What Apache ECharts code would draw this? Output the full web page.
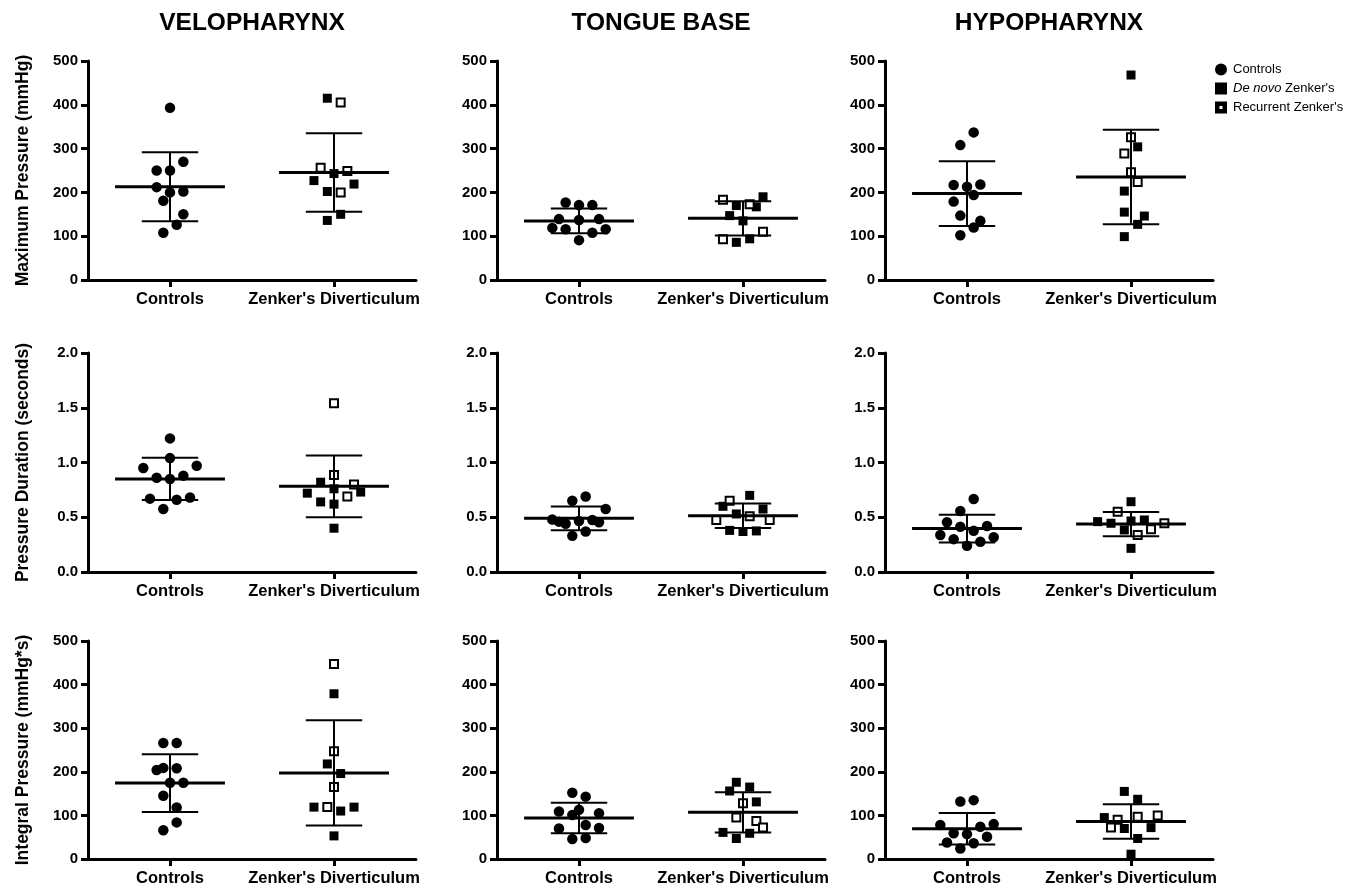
<!DOCTYPE html>
<html><head><meta charset="utf-8">
<script src="https://cdn.jsdelivr.net/npm/echarts@6/dist/echarts.min.js"></script>
<style>html,body{margin:0;padding:0;background:#fff}#c{width:1360px;height:887px}</style>
</head><body><div id="c"></div>
<script>
const categories = ['Controls', "Zenker's Diverticulum"];
const regions = ['VELOPHARYNX', 'TONGUE BASE', 'HYPOPHARYNX'];
const measures = ['Maximum Pressure (mmHg)', 'Pressure Duration (seconds)', 'Integral Pressure (mmHg*s)'];
const yMax = [500, 2, 500];
const yInterval = [100, 0.5, 100];
const groupNames = ['Controls', "De novo Zenker's", "Recurrent Zenker's"];

// ---- Maximum pressure (mmHg) ----
const veloMaxControls = [393, 270, 250, 250, 212, 202, 200, 181, 150, 126, 108];
const veloMaxControlsJitter = [0, 2, -2, 0, -2, 2, 0, -1, 2, 1, -1];
const veloMaxDeNovo = [415, 243, 227, 219, 202, 150, 136];
const veloMaxDeNovoJitter = [-1, 0, -3, 3, -1, 1, -1];
const veloMaxRecurrent = [405, 256, 249, 200];
const veloMaxRecurrentJitter = [1, -2, 2, 1];

const tongueMaxControls = [177, 171, 171, 139, 137, 139, 119, 116, 108, 116, 91];
const tongueMaxControlsJitter = [-2, 0, 2, -3, 0, 3, -4, -2, 2, 4, 0];
const tongueMaxDeNovo = [170, 167, 190, 147, 135, 86, 94];
const tongueMaxDeNovoJitter = [-1, 2, 3, -2, 0, -1, 1];
const tongueMaxRecurrent = [183, 173, 110, 93];
const tongueMaxRecurrentJitter = [-3, 1, 3, -3];

const hypoMaxControls = [337, 308, 217, 213, 218, 194, 179, 147, 135, 120, 102];
const hypoMaxControlsJitter = [1, -1, -2, 0, 2, 1, -2, -1, 2, 1, -1];
const hypoMaxDeNovo = [468, 304, 203, 155, 146, 127, 99];
const hypoMaxDeNovoJitter = [0, 1, -1, -1, 2, 1, -1];
const hypoMaxRecurrent = [326, 289, 246, 224];
const hypoMaxRecurrentJitter = [0, -1, 0, 1];

// ---- Pressure duration (seconds) ----
const veloDurControls = [1.22, 0.95, 1.04, 0.97, 0.86, 0.85, 0.88, 0.67, 0.66, 0.68, 0.575];
const veloDurControlsJitter = [0, -4, 0, 4, -2, 0, 2, -3, 1, 3, -1];
const veloDurDeNovo = [0.82, 0.76, 0.72, 0.73, 0.64, 0.62, 0.40];
const veloDurDeNovoJitter = [-2, 0, -4, 4, -2, 0, 0];
const veloDurRecurrent = [1.54, 0.886, 0.80, 0.69];
const veloDurRecurrentJitter = [0, 0, 3, 2];

const tongueDurControls = [0.69, 0.65, 0.575, 0.48, 0.46, 0.466, 0.475, 0.454, 0.37, 0.33, 0.44];
const tongueDurControlsJitter = [1, -1, 4, -4, -3, 0, 2, 3, 1, -1, -2];
const tongueDurDeNovo = [0.70, 0.60, 0.575, 0.53, 0.38, 0.37, 0.375];
const tongueDurDeNovoJitter = [1, -3, 3, -1, -2, 0, 2];
const tongueDurRecurrent = [0.65, 0.51, 0.475, 0.475];
const tongueDurRecurrentJitter = [-2, 1, -4, 4];

const hypoDurControls = [0.667, 0.557, 0.454, 0.414, 0.377, 0.42, 0.338, 0.30, 0.317, 0.277, 0.24];
const hypoDurControlsJitter = [1, -1, -3, -1, 1, 3, -4, -2, 4, 2, 0];
const hypoDurDeNovo = [0.642, 0.46, 0.445, 0.475, 0.466, 0.384, 0.216];
const hypoDurDeNovoJitter = [0, -5, -3, 2, 0, -1, 0];
const hypoDurRecurrent = [0.55, 0.445, 0.39, 0.338];
const hypoDurRecurrentJitter = [-2, 5, 3, 1];

// ---- Integral pressure (mmHg*s) ----
const veloIntControls = [266, 266, 204, 209, 208, 175, 175, 145, 118, 84, 66];
const veloIntControlsJitter = [-1, 1, -2, -1, 1, 0, 2, -1, 1, 1, -1];
const veloIntDeNovo = [379, 218, 196, 119, 110, 119, 53];
const veloIntDeNovoJitter = [0, -1, 1, -3, 1, 3, 0];
const veloIntRecurrent = [447, 247, 165, 119];
const veloIntRecurrentJitter = [0, 0, 0, -1];

const tongueIntControls = [152, 143, 109, 113, 101, 105, 78, 70, 71, 46, 48];
const tongueIntControlsJitter = [-1, 1, -3, 0, -1, 3, 1, -3, 3, -1, 1];
const tongueIntDeNovo = [176, 165, 156, 131, 61, 59, 47];
const tongueIntDeNovoJitter = [-1, 1, -2, 2, -3, 1, -1];
const tongueIntRecurrent = [128, 95, 87, 72];
const tongueIntRecurrentJitter = [0, -1, 2, 3];

const hypoIntControls = [132, 135, 78, 74, 80, 59, 57, 51, 38, 36, 24];
const hypoIntControlsJitter = [-1, 1, -4, 2, 4, -2, 0, 3, -3, 1, -1];
const hypoIntDeNovo = [155, 137, 95, 70, 72, 47, 11];
const hypoIntDeNovoJitter = [-1, 1, -4, -1, 3, 1, 0];
const hypoIntRecurrent = [100, 97, 90, 72];
const hypoIntRecurrentJitter = [4, 1, -2, -3];

// panels[row][col]
const panels = [
  [
    [veloMaxControls, veloMaxControlsJitter, veloMaxDeNovo, veloMaxDeNovoJitter, veloMaxRecurrent, veloMaxRecurrentJitter],
    [tongueMaxControls, tongueMaxControlsJitter, tongueMaxDeNovo, tongueMaxDeNovoJitter, tongueMaxRecurrent, tongueMaxRecurrentJitter],
    [hypoMaxControls, hypoMaxControlsJitter, hypoMaxDeNovo, hypoMaxDeNovoJitter, hypoMaxRecurrent, hypoMaxRecurrentJitter]
  ],
  [
    [veloDurControls, veloDurControlsJitter, veloDurDeNovo, veloDurDeNovoJitter, veloDurRecurrent, veloDurRecurrentJitter],
    [tongueDurControls, tongueDurControlsJitter, tongueDurDeNovo, tongueDurDeNovoJitter, tongueDurRecurrent, tongueDurRecurrentJitter],
    [hypoDurControls, hypoDurControlsJitter, hypoDurDeNovo, hypoDurDeNovoJitter, hypoDurRecurrent, hypoDurRecurrentJitter]
  ],
  [
    [veloIntControls, veloIntControlsJitter, veloIntDeNovo, veloIntDeNovoJitter, veloIntRecurrent, veloIntRecurrentJitter],
    [tongueIntControls, tongueIntControlsJitter, tongueIntDeNovo, tongueIntDeNovoJitter, tongueIntRecurrent, tongueIntRecurrentJitter],
    [hypoIntControls, hypoIntControlsJitter, hypoIntDeNovo, hypoIntDeNovoJitter, hypoIntRecurrent, hypoIntRecurrentJitter]
  ]
];

// ---- layout ----
const FONT = '"Liberation Sans", Arial, Helvetica, sans-serif';
const colLeft = [88, 497, 885];
const rowTop = [61, 353, 641];
const gridW = 328, gridH = 219;
const jitterStep = 0.0407;   // one jitter slot on the hidden [0,2] x-scale
const meanHalf = 0.335, capHalf = 0.172;

function mean(a) { return a.reduce((s, v) => s + v, 0) / a.length; }
function sd(a) { const m = mean(a); return Math.sqrt(a.reduce((s, v) => s + (v - m) * (v - m), 0) / (a.length - 1)); }
function pts(vals, jit, center) { return vals.map((v, i) => [center + jit[i] * jitterStep, v]); }

const grid = [], xAxis = [], yAxis = [], series = [], title = [];
regions.forEach((r, c) => {
  title.push({ text: r, left: colLeft[c] + gridW / 2, top: 11, textAlign: 'center', padding: 0,
    textStyle: { fontFamily: FONT, fontSize: 24.5, fontWeight: 'bold', color: '#000' } });
});

for (let r = 0; r < 3; r++) {
  for (let c = 0; c < 3; c++) {
    const gi = r * 3 + c;
    grid.push({ left: colLeft[c], top: rowTop[r], width: gridW, height: gridH, containLabel: false });
    xAxis.push({
      type: 'category', gridIndex: gi, data: categories, boundaryGap: true,
      axisLine: { show: true, lineStyle: { color: '#000', width: 3 } },
      axisTick: { show: true, alignWithLabel: true, length: 7, lineStyle: { color: '#000', width: 3 } },
      axisLabel: { color: '#000', fontFamily: FONT, fontSize: 16.5, fontWeight: 'bold', margin: 11, interval: 0 },
      splitLine: { show: false }
    });
    xAxis.push({ type: 'value', gridIndex: gi, min: 0, max: 2, show: false });
    yAxis.push({
      type: 'value', gridIndex: gi, min: 0, max: yMax[r], interval: yInterval[r],
      name: c === 0 ? measures[r] : '', nameLocation: 'middle', nameRotate: 90, nameGap: 56,
      nameTextStyle: { color: '#000', fontFamily: FONT, fontSize: 17.5, fontWeight: 'bold' },
      axisLine: { show: true, lineStyle: { color: '#000', width: 3 } },
      axisTick: { show: true, length: 7, lineStyle: { color: '#000', width: 3 } },
      axisLabel: { color: '#000', fontFamily: FONT, fontSize: 15, fontWeight: 'bold', margin: 10,
        formatter: r === 1 ? (v => v.toFixed(1)) : (v => String(v)) },
      splitLine: { show: false }
    });
    const p = panels[r][c];
    const xi = gi * 2 + 1;
    series.push({ name: groupNames[0], type: 'scatter', xAxisIndex: xi, yAxisIndex: gi,
      symbol: 'circle', symbolSize: 10.5, itemStyle: { color: '#000', opacity: 1 }, z: 2,
      data: pts(p[0], p[1], 0.5) });
    series.push({ name: groupNames[1], type: 'scatter', xAxisIndex: xi, yAxisIndex: gi,
      symbol: 'rect', symbolSize: 9, itemStyle: { color: '#000', opacity: 1 }, z: 2,
      data: pts(p[2], p[3], 1.5) });
    series.push({ name: groupNames[2], type: 'scatter', xAxisIndex: xi, yAxisIndex: gi,
      symbol: 'rect', symbolSize: 8, itemStyle: { color: '#fff', borderColor: '#000', borderWidth: 2, opacity: 1 }, z: 2,
      data: pts(p[4], p[5], 1.5) });
    const zen = p[2].concat(p[4]);
    series.push({
      type: 'custom', xAxisIndex: xi, yAxisIndex: gi, z: 3, silent: true,
      data: [[0.5, mean(p[0]), sd(p[0])], [1.5, mean(zen), sd(zen)]],
      renderItem: function (params, api) {
        const cx = api.value(0), m = api.value(1), s = api.value(2);
        const top = api.coord([cx, m + s]), bot = api.coord([cx, m - s]);
        const ml = api.coord([cx - meanHalf, m]), mr = api.coord([cx + meanHalf, m]);
        const cl = api.coord([cx - capHalf, m])[0], cr = api.coord([cx + capHalf, m])[0];
        const st = { stroke: '#000', lineWidth: 2 };
        return { type: 'group', children: [
          { type: 'line', shape: { x1: top[0], y1: top[1], x2: bot[0], y2: bot[1] }, style: st },
          { type: 'line', shape: { x1: cl, y1: top[1], x2: cr, y2: top[1] }, style: st },
          { type: 'line', shape: { x1: cl, y1: bot[1], x2: cr, y2: bot[1] }, style: st },
          { type: 'line', shape: { x1: ml[0], y1: ml[1], x2: mr[0], y2: mr[1] }, style: { stroke: '#000', lineWidth: 3 } }
        ] };
      }
    });
  }
}

const chart = echarts.init(document.getElementById('c'), null, { renderer: 'canvas' });
chart.setOption({
  animation: false,
  backgroundColor: '#fff',
  textStyle: { fontFamily: FONT },
  title: title,
  legend: {
    orient: 'vertical', left: 1210, top: 58, itemWidth: 12, itemHeight: 12, itemGap: 6,
    selectedMode: false,
    data: [
      { name: groupNames[0], icon: 'circle', itemStyle: { color: '#000', opacity: 1 } },
      { name: groupNames[1], icon: 'rect', itemStyle: { color: '#000', opacity: 1 } },
      { name: groupNames[2], icon: 'path://M0,0H12V12H0Z M4.5,4.5V7.5H7.5V4.5Z', itemStyle: { color: '#000', borderWidth: 0, opacity: 1 } }
    ],
    formatter: function (n) { return n === groupNames[1] ? '{i|De novo} Zenker\'s' : n; },
    textStyle: { color: '#000', fontFamily: FONT, fontSize: 13, padding: [0, 0, 0, 1],
      rich: { i: { fontStyle: 'italic', fontFamily: FONT, fontSize: 13, color: '#000' } } }
  },
  grid: grid, xAxis: xAxis, yAxis: yAxis, series: series
});
</script></body></html>
